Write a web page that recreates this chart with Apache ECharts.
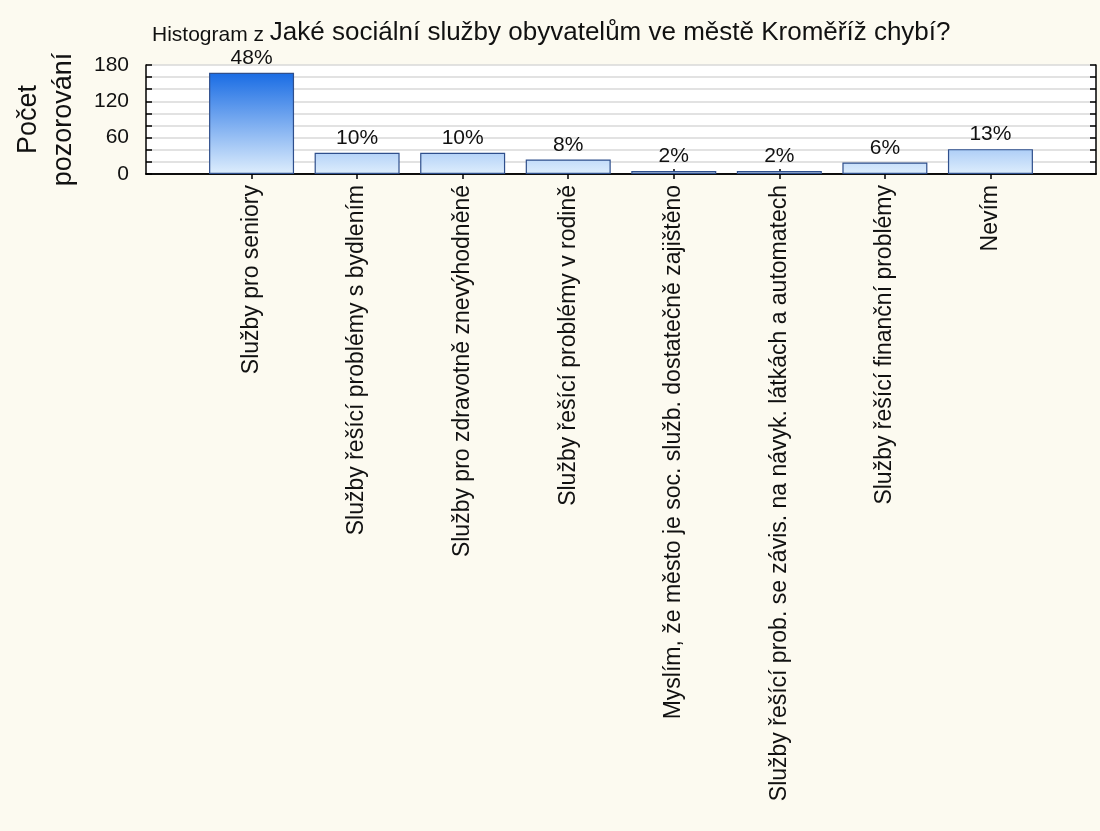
<!doctype html>
<html>
    <head>
        <meta charset="utf-8">
        <title>Histogram</title>
        <style>
            html, body { margin: 0; padding: 0; background: #fcfaf0; }
            #main { width: 1100px; height: 831px; }
        </style>
    </head>
    <body>
        <div id="main"></div>
        <script src="https://cdn.jsdelivr.net/npm/echarts@6/dist/echarts.min.js"></script>
        <script>

var categories = [
    'Služby pro seniory',
    'Služby řešící problémy s bydlením',
    'Služby pro zdravotně znevýhodněné',
    'Služby řešící problémy v rodině',
    'Myslím, že město je soc. služb. dostatečně zajištěno',
    'Služby řešící prob. se závis. na návyk. látkách a automatech',
    'Služby řešící finanční problémy',
    'Nevím'
];
var counts = [167, 35, 35, 24, 5, 5, 19, 41];
var percents = ['48%', '10%', '10%', '8%', '2%', '2%', '6%', '13%'];
var yTicks = [0, 60, 120, 180];

var font = '"Liberation Sans", Arial, sans-serif';

// empty slot on both sides, like the original plot
var axisData = [''].concat(categories, ['']);
var seriesData = ['-'].concat(counts.map(function (v, i) {
    return { value: v, pct: percents[i] };
}), ['-']);

var chart = echarts.init(document.getElementById('main'));

var barFill = new echarts.graphic.LinearGradient(0, 65, 0, 175, [
    { offset: 0, color: '#0a62e2' },
    { offset: 1, color: '#e0effd' }
], true);

var tickStyle = { color: '#000', width: 1.5 };
var innerTicks = function (i) { return i > 0 && i < axisData.length - 1; };

chart.setOption({
    backgroundColor: '#fcfaf0',
    animation: false,
    title: {
        left: 147,
        top: 15,
        text: '{s|Histogram z }{b|Jaké sociální služby obyvatelům ve městě Kroměříž chybí?}',
        textStyle: {
            rich: {
                s: { fontFamily: font, fontSize: 21, fontWeight: 'normal', color: '#111', verticalAlign: 'bottom' },
                b: { fontFamily: font, fontSize: 26, fontWeight: 'normal', color: '#111', verticalAlign: 'bottom' }
            }
        }
    },
    grid: {
        left: 146,
        right: 4,
        top: 65,
        height: 109,
        backgroundColor: '#ffffff',
        show: true,
        borderWidth: 0
    },
    xAxis: [{
        type: 'category',
        data: axisData,
        boundaryGap: false,
        axisLine: { lineStyle: { color: '#000', width: 1.5 } },
        axisTick: { inside: true, length: 5, lineStyle: tickStyle, interval: innerTicks },
        axisLabel: {
            rotate: 90,
            interval: 0,
            margin: 11,
            fontFamily: font,
            fontSize: 23,
            color: '#111'
        },
        splitLine: { show: false }
    }, {
        type: 'category',
        data: axisData,
        boundaryGap: false,
        position: 'top',
        axisLine: { lineStyle: { color: '#000', width: 1.5 } },
        axisTick: { inside: true, length: 5, lineStyle: tickStyle, interval: innerTicks },
        axisLabel: { show: false }
    }],
    yAxis: [{
        type: 'value',
        min: 0,
        max: 180,
        interval: 20,
        name: 'Počet\npozorování',
        nameLocation: 'middle',
        nameRotate: 90,
        nameGap: 65,
        nameTextStyle: { fontFamily: font, fontSize: 27, color: '#111', lineHeight: 35 },
        axisLine: { show: true, lineStyle: { color: '#000', width: 1.5 } },
        axisTick: { show: true, inside: true, length: 6, lineStyle: tickStyle },
        axisLabel: {
            margin: 17,
            fontFamily: font,
            fontSize: 21,
            color: '#111',
            formatter: function (v) { return yTicks.indexOf(v) >= 0 ? String(v) : ''; }
        },
        splitLine: { show: true, lineStyle: { color: '#d8d8d8', width: 1.5 } }
    }, {
        type: 'value',
        min: 0,
        max: 180,
        interval: 20,
        position: 'right',
        axisLine: { show: true, lineStyle: { color: '#000', width: 1.5 } },
        axisTick: { show: true, inside: true, length: 6, lineStyle: tickStyle },
        axisLabel: { show: false },
        splitLine: { show: false }
    }],
    series: [{
        type: 'bar',
        data: seriesData,
        barWidth: 85,
        itemStyle: {
            color: barFill,
            borderColor: '#2f4f8c',
            borderWidth: 1.2
        },
        label: {
            show: true,
            position: 'top',
            distance: 4,
            fontFamily: font,
            fontSize: 21,
            color: '#111',
            formatter: function (p) { return p.data.pct; }
        }
    }]
});

window.addEventListener('resize', function () {
    chart.resize();
});
        </script>
    </body>
</html>
